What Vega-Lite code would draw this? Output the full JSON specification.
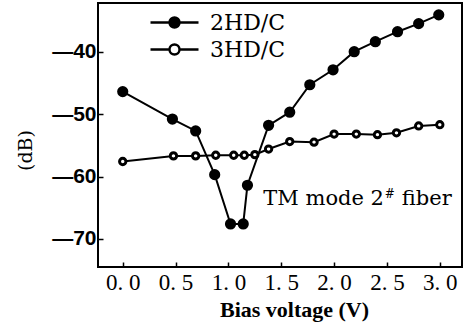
{
  "$schema": "https://vega.github.io/schema/vega-lite/v6.json",
  "width": 364,
  "height": 264,
  "autosize": "none",
  "padding": {"left": 98, "top": 3, "right": 5, "bottom": 59},
  "background": "white",
  "config": {
    "view": {"stroke": "black", "strokeWidth": 2},
    "axis": {"domain": false, "grid": false, "tickColor": "black", "tickWidth": 1.5, "labelColor": "black", "titleColor": "black"}
  },
  "datasets": {
    "hd": [
      {"v": 0.0, "db": -46.4, "s": "2HD/C"},
      {"v": 0.47, "db": -50.8, "s": "2HD/C"},
      {"v": 0.69, "db": -52.7, "s": "2HD/C"},
      {"v": 0.87, "db": -59.7, "s": "2HD/C"},
      {"v": 1.02, "db": -67.6, "s": "2HD/C"},
      {"v": 1.14, "db": -67.6, "s": "2HD/C"},
      {"v": 1.18, "db": -61.4, "s": "2HD/C"},
      {"v": 1.38, "db": -51.8, "s": "2HD/C"},
      {"v": 1.58, "db": -49.7, "s": "2HD/C"},
      {"v": 1.77, "db": -45.3, "s": "2HD/C"},
      {"v": 1.99, "db": -42.9, "s": "2HD/C"},
      {"v": 2.19, "db": -40.0, "s": "2HD/C"},
      {"v": 2.39, "db": -38.4, "s": "2HD/C"},
      {"v": 2.6, "db": -36.8, "s": "2HD/C"},
      {"v": 2.8, "db": -35.5, "s": "2HD/C"},
      {"v": 2.99, "db": -34.1, "s": "2HD/C"},
      {"v": 0.0, "db": -57.6, "s": "3HD/C"},
      {"v": 0.48, "db": -56.7, "s": "3HD/C"},
      {"v": 0.69, "db": -56.7, "s": "3HD/C"},
      {"v": 0.88, "db": -56.6, "s": "3HD/C"},
      {"v": 1.05, "db": -56.6, "s": "3HD/C"},
      {"v": 1.15, "db": -56.6, "s": "3HD/C"},
      {"v": 1.25, "db": -56.5, "s": "3HD/C"},
      {"v": 1.38, "db": -55.6, "s": "3HD/C"},
      {"v": 1.58, "db": -54.4, "s": "3HD/C"},
      {"v": 1.81, "db": -54.5, "s": "3HD/C"},
      {"v": 2.0, "db": -53.2, "s": "3HD/C"},
      {"v": 2.21, "db": -53.2, "s": "3HD/C"},
      {"v": 2.41, "db": -53.3, "s": "3HD/C"},
      {"v": 2.59, "db": -53.0, "s": "3HD/C"},
      {"v": 2.8, "db": -51.9, "s": "3HD/C"},
      {"v": 3.0, "db": -51.7, "s": "3HD/C"}
    ],
    "note": [
      {"t": "TM mode 2", "tx": 1.33, "ty": -64.5, "k": "big"},
      {"t": "#", "tx": 2.48, "ty": -63.4, "k": "sup"},
      {"t": "fiber", "tx": 2.64, "ty": -64.5, "k": "big"}
    ]
  },
  "layer": [
    {
      "data": {"name": "hd"},
      "mark": {"type": "line", "color": "black", "strokeWidth": 2},
      "encoding": {
        "x": {
          "field": "v", "type": "quantitative",
          "scale": {"domain": [-0.234, 3.21], "nice": false, "zero": false},
          "axis": {
            "values": [0, 0.5, 1, 1.5, 2, 2.5, 3],
            "labelExpr": "replace(format(datum.value, '.1f'), '.', '. ')",
            "labelFont": "Liberation Serif", "labelFontSize": 23,
            "tickSize": -5, "labelPadding": 9,
            "title": "Bias voltage (V)",
            "titleFont": "Liberation Serif", "titleFontSize": 22, "titleFontWeight": "bold",
            "titleX": 196, "titlePadding": 5
          }
        },
        "y": {
          "field": "db", "type": "quantitative",
          "scale": {"domain": [-74.5, -32.2], "nice": false, "zero": false},
          "axis": {
            "values": [-70, -60, -50, -40],
            "labelExpr": "'—' + abs(datum.value)",
            "labelFont": "Liberation Sans", "labelFontSize": 21, "labelFontWeight": "bold",
            "tickSize": -5, "labelPadding": 7,
            "title": "(dB)",
            "titleFont": "DejaVu Serif", "titleFontSize": 19, "titleFontWeight": "normal",
            "titleX": -73, "titleY": 147, "titleAlign": "center", "titleBaseline": "middle"
          }
        },
        "detail": {"field": "s"}
      }
    },
    {
      "data": {"name": "hd"},
      "transform": [{"filter": "datum.s == '3HD/C'"}],
      "mark": {"type": "point", "filled": true, "stroke": "black", "strokeWidth": 3, "size": 40, "opacity": 1},
      "encoding": {
        "x": {"field": "v", "type": "quantitative"},
        "y": {"field": "db", "type": "quantitative"},
        "fill": {
          "field": "s", "type": "nominal",
          "scale": {"domain": ["2HD/C", "3HD/C"], "range": ["black", "white"]},
          "legend": {
            "title": null, "orient": "none", "legendX": 65, "legendY": 8,
            "padding": 0,
            "symbolType": "M-2.4,0L-0.5,0M0.5,0L2.4,0M0.5,0A0.5,0.5,0,1,1,-0.5,0A0.5,0.5,0,1,1,0.5,0Z",
            "symbolSize": 400, "symbolStrokeColor": "black", "symbolStrokeWidth": 2.4,
            "labelFont": "DejaVu Serif", "labelFontSize": 22, "labelColor": "black",
            "labelOffset": 24, "rowPadding": 4
          }
        }
      }
    },
    {
      "data": {"name": "hd"},
      "transform": [{"filter": "datum.s == '2HD/C'"}],
      "mark": {"type": "point", "filled": true, "stroke": "black", "strokeWidth": 2, "size": 85, "opacity": 1},
      "encoding": {
        "x": {"field": "v", "type": "quantitative"},
        "y": {"field": "db", "type": "quantitative"},
        "fill": {"field": "s", "type": "nominal"}
      }
    },
    {
      "data": {"name": "note"},
      "transform": [{"filter": "datum.k == 'big'"}],
      "mark": {"type": "text", "font": "DejaVu Serif", "fontSize": 21, "align": "left", "baseline": "alphabetic", "color": "black"},
      "encoding": {
        "x": {"field": "tx", "type": "quantitative"},
        "y": {"field": "ty", "type": "quantitative"},
        "text": {"field": "t"}
      }
    },
    {
      "data": {"name": "note"},
      "transform": [{"filter": "datum.k == 'sup'"}],
      "mark": {"type": "text", "font": "DejaVu Serif", "fontSize": 12, "align": "left", "baseline": "alphabetic", "color": "black"},
      "encoding": {
        "x": {"field": "tx", "type": "quantitative"},
        "y": {"field": "ty", "type": "quantitative"},
        "text": {"field": "t"}
      }
    }
  ]
}
